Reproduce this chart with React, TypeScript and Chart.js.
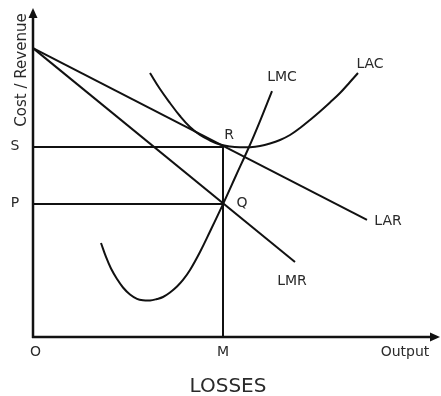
import React, { useEffect, useRef } from "react";
import { Chart, registerables } from "chart.js";

Chart.register(...registerables);

// Output axis (0..100) and Cost/Revenue axis (0..100), arbitrary units
const sLevel = 57.75;
const pLevel = 40.4;
const mOutput = 47.5;

const larX = [0, 83.5];
const larY = [87.8, 35.6];

const lmrX = [0, 65.5];
const lmrY = [87.8, 22.8];

const lmcX = [17, 18.25, 19.5, 21, 22.5, 24.25, 26, 27.5, 29.25, 31, 32.5, 34.25, 36, 37.5, 39.25, 41.75, 44.25, 47.5, 50.75, 54, 56.75, 59.75];
const lmcY = [28.57, 24.32, 20.82, 17.63, 15.05, 12.92, 11.61, 11.16, 11.09, 11.55, 12.16, 13.53, 15.35, 17.33, 20.36, 25.84, 32.07, 40.4, 49.09, 57.75, 65.65, 74.77];

const lacX = [29.25, 31.75, 34.25, 36.75, 39.25, 41.75, 44.25, 46.75, 49.25, 51.75, 54.25, 56.75, 59.25, 61.75, 64.25, 66.75, 69.25, 71.75, 74.25, 76.75, 79.25, 81.25];
const lacY = [80.24, 75.38, 71.12, 67.17, 63.83, 61.4, 59.73, 58.51, 57.9, 57.66, 57.69, 58.05, 58.81, 59.88, 61.4, 63.53, 65.96, 68.54, 71.28, 74.16, 77.51, 80.24];

const yTickValues = [sLevel, pLevel];
const yTickLabels = ["S", "P"];
const xTickValues = [0.6, mOutput, 93];
const xTickLabels = ["O", "M", "Output"];

// curve labels: text, anchor x, anchor y (data units)
const curveLabelText = ["LAC", "LMC", "LAR", "LMR", "R", "Q"];
const curveLabelX = [84.25, 62.25, 88.75, 64.75, 49, 52.25];
const curveLabelY = [83.0, 79.0, 35.3, 17.0, 61.4, 40.7];

const titleText = "LOSSES";
const yAxisTitle = "Cost / Revenue";

const pts = (xs: number[], ys: number[]) => xs.map((x, i) => ({ x, y: ys[i] }));

const FONT = "'DejaVu Sans', sans-serif";
const INK = "#111";
const TEXT = "#2a2a2a";

export default function App() {
  const ref = useRef<HTMLCanvasElement | null>(null);

  useEffect(() => {
    if (!ref.current) return;

    const decor = {
      id: "decor",
      afterDatasetsDraw(chart: any) {
        const { ctx, scales } = chart;
        const xs = scales.x;
        const ys = scales.y;
        const x0 = xs.getPixelForValue(0);
        const y0 = ys.getPixelForValue(0);
        const xTop = ys.getPixelForValue(100);
        const xEnd = xs.getPixelForValue(100);
        ctx.save();
        // axes
        ctx.strokeStyle = INK;
        ctx.fillStyle = INK;
        ctx.lineWidth = 2.5;
        ctx.beginPath();
        ctx.moveTo(x0, y0 + 1);
        ctx.lineTo(x0, xTop + 6);
        ctx.moveTo(x0 - 1, y0);
        ctx.lineTo(xEnd, y0);
        ctx.stroke();
        // arrows
        ctx.beginPath();
        ctx.moveTo(x0, xTop);
        ctx.lineTo(x0 - 4.5, xTop + 10);
        ctx.lineTo(x0 + 4.5, xTop + 10);
        ctx.closePath();
        ctx.fill();
        ctx.beginPath();
        ctx.moveTo(xEnd + 7, y0);
        ctx.lineTo(xEnd - 3, y0 - 4.5);
        ctx.lineTo(xEnd - 3, y0 + 4.5);
        ctx.closePath();
        ctx.fill();

        ctx.fillStyle = TEXT;
        ctx.textAlign = "center";
        ctx.textBaseline = "middle";
        ctx.font = `14px ${FONT}`;
        yTickValues.forEach((v, i) => {
          ctx.fillText(yTickLabels[i], 15, ys.getPixelForValue(v) - 1);
        });
        xTickValues.forEach((v, i) => {
          ctx.fillText(xTickLabels[i], xs.getPixelForValue(v), y0 + 15);
        });
        curveLabelText.forEach((t, i) => {
          ctx.fillText(t, xs.getPixelForValue(curveLabelX[i]), ys.getPixelForValue(curveLabelY[i]));
        });
        // y axis title
        ctx.save();
        ctx.translate(22, 70);
        ctx.rotate(-Math.PI / 2);
        ctx.font = `15px ${FONT}`;
        ctx.fillText(yAxisTitle, 0, 0);
        ctx.restore();
        // main title
        ctx.font = `20px ${FONT}`;
        ctx.fillText(titleText, (x0 + xEnd) / 2 - 5, y0 + 50);
        ctx.restore();
      },
    };

    const lineDs = (data: any[], extra: any = {}) => ({
      data,
      borderColor: INK,
      borderWidth: 2,
      pointRadius: 0,
      showLine: true,
      fill: false,
      clip: false,
      ...extra,
    });

    const chart = new Chart(ref.current, {
      type: "scatter",
      data: {
        datasets: [
          lineDs(pts([0, mOutput], [sLevel, sLevel])),
          lineDs(pts([0, mOutput], [pLevel, pLevel])),
          lineDs(pts([mOutput, mOutput], [sLevel, 0])),
          lineDs(pts(larX, larY)),
          lineDs(pts(lmrX, lmrY)),
          lineDs(pts(lmcX, lmcY), { tension: 0.4 }),
          lineDs(pts(lacX, lacY), { tension: 0.4 }),
        ],
      },
      options: {
        animation: false,
        responsive: true,
        maintainAspectRatio: false,
        layout: { padding: { left: 33, top: 8, right: 8, bottom: 59 } },
        plugins: { legend: { display: false }, tooltip: { enabled: false }, title: { display: false } },
        scales: {
          x: { type: "linear", min: 0, max: 100, display: false },
          y: { type: "linear", min: 0, max: 100, display: false },
        },
      },
      plugins: [decor],
    });
    return () => chart.destroy();
  }, []);

  return (
    <div style={{ position: "absolute", left: 0, top: 0, width: 441, height: 396, background: "#fff" }}>
      <canvas ref={ref} />
    </div>
  );
}
